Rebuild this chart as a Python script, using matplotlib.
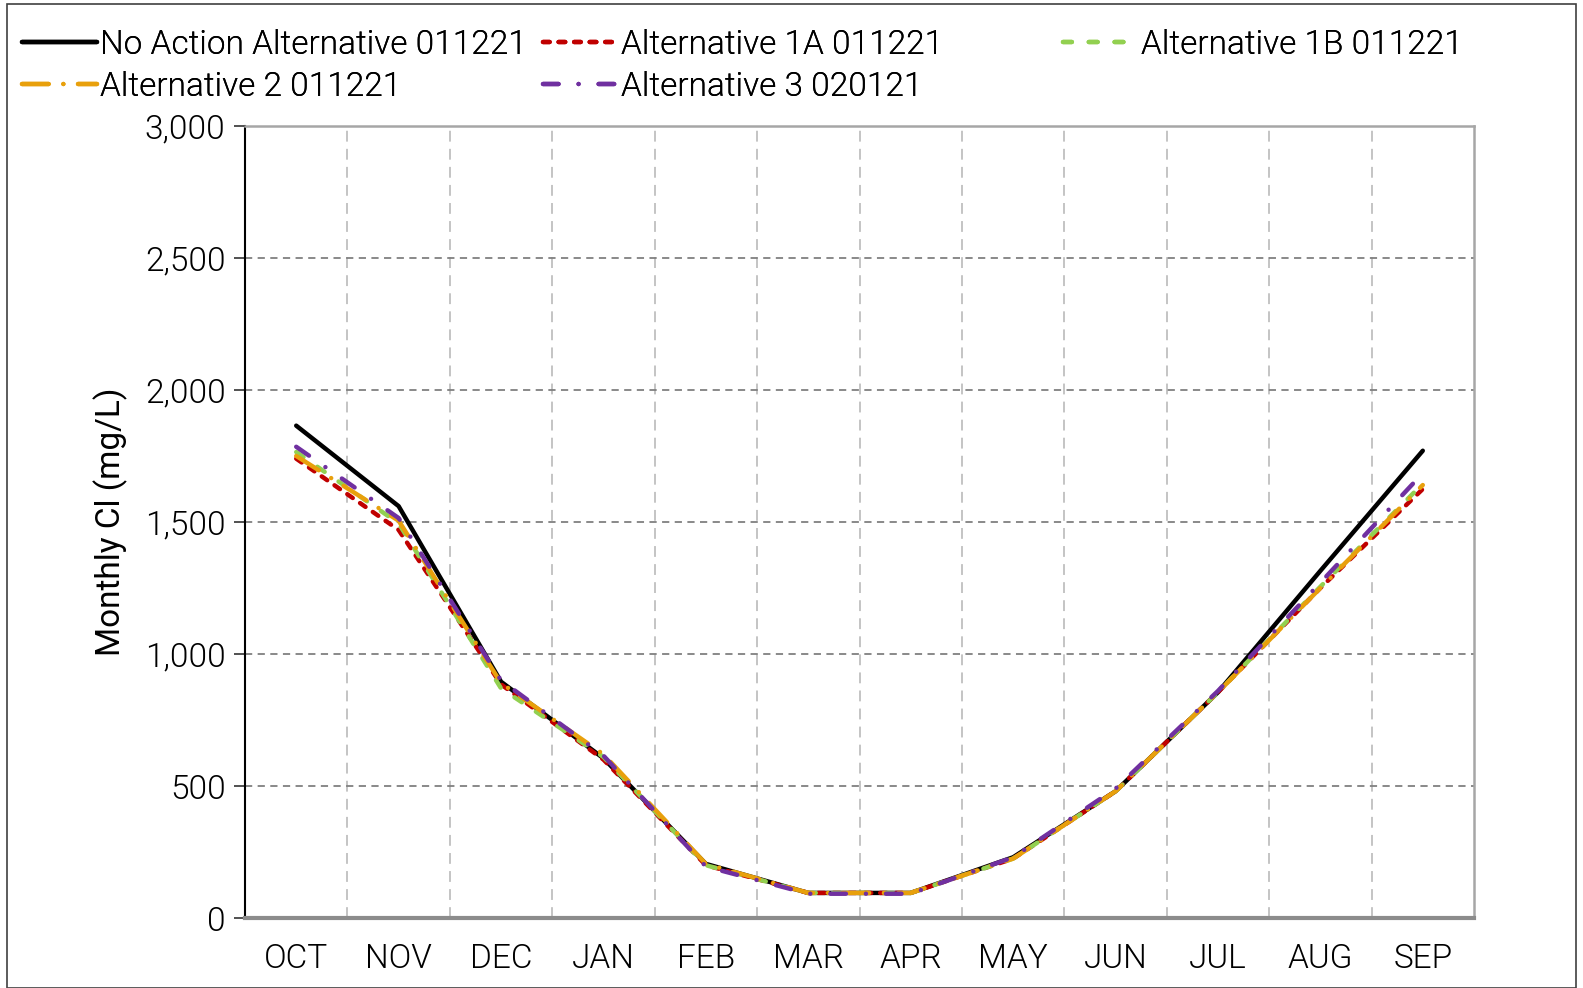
import matplotlib
matplotlib.use("Agg")
import matplotlib.pyplot as plt
from matplotlib.patches import Rectangle
from matplotlib.ticker import FuncFormatter
import numpy as np

plt.rcParams["font.family"] = ["Roboto", "DejaVu Sans"]
plt.rcParams["font.weight"] = 300

months = ["OCT", "NOV", "DEC", "JAN", "FEB", "MAR", "APR", "MAY", "JUN", "JUL", "AUG", "SEP"]

no_action = [1865, 1560, 895, 605, 205, 95, 95, 230, 480, 855, 1315, 1770]
alt_1a = [1740, 1470, 885, 600, 200, 95, 95, 225, 480, 855, 1250, 1625]
alt_1b = [1765, 1495, 870, 610, 200, 95, 95, 225, 480, 855, 1255, 1645]
alt_2 = [1750, 1505, 890, 620, 205, 95, 95, 225, 480, 855, 1250, 1640]
alt_3 = [1785, 1515, 900, 615, 195, 92, 92, 230, 490, 860, 1270, 1685]

series = [
    ("No Action Alternative 011221", no_action, "#000000", "-"),
    ("Alternative 1A 011221", alt_1a, "#C00000", (0, (1.5, 2))),
    ("Alternative 1B 011221", alt_1b, "#92D050", (0, (2, 3.8))),
    ("Alternative 2 011221", alt_2, "#E8A00C", (0, (6, 3.3, 0.01, 3.3))),
    ("Alternative 3 020121", alt_3, "#7030A0", (0, (3.5, 4.5, 0.01, 4.5))),
]

FS = 24

fig = plt.figure(figsize=(15.83, 9.88), dpi=100)
ax = fig.add_axes([245 / 1583, 1 - 918 / 988, (1474 - 245) / 1583, (918 - 126) / 988])

x = np.arange(len(months))
lines = {}
for name, vals, color, ls in series:
    (ln,) = ax.plot(x, vals, color=color, linestyle=ls, linewidth=3.2,
                    solid_capstyle="round", dash_capstyle="round", label=name)
    lines[name] = ln

ax.set_xlim(-0.5, len(months) - 0.5)
ax.set_ylim(0, 3000)
ax.set_yticks(np.arange(0, 3001, 500))
ax.yaxis.set_major_formatter(FuncFormatter(lambda v, p: f"{int(v):,}"))
ax.set_xticks(x)
ax.set_xticklabels(months)
ax.set_xticks(np.arange(0.5, len(months) - 1, 1), minor=True)

ax.grid(True, axis="y", which="major", color="#808080", linestyle=(0, (4, 3)), linewidth=1.3)
ax.grid(True, axis="x", which="minor", color="#BFBFBF", linestyle=(0, (6, 4)), linewidth=1.3)
ax.set_axisbelow(True)

ax.tick_params(axis="x", which="both", length=0, labelsize=FS, pad=18)
ax.tick_params(axis="y", length=8, width=1.2, labelsize=FS, pad=6, color="#333333")

for s in ["top", "right"]:
    ax.spines[s].set_color("#A6A6A6")
    ax.spines[s].set_linewidth(1.8)
ax.spines["bottom"].set_color("#8C8C8C")
ax.spines["bottom"].set_linewidth(3)
ax.spines["left"].set_color("#000000")
ax.spines["left"].set_linewidth(1.5)

ax.set_ylabel("Monthly Cl (mg/L)", fontsize=FS, labelpad=12)

# legend laid out as three fixed columns, like the original
columns = [
    (22, ["No Action Alternative 011221", "Alternative 2 011221"]),
    (543, ["Alternative 1A 011221", "Alternative 3 020121"]),
    (1063, ["Alternative 1B 011221"]),
]
for x0, names in columns:
    leg = fig.legend([lines[n] for n in names], names, loc="upper left",
                     bbox_to_anchor=(x0 / 1583, 1 - 29 / 988), frameon=False,
                     fontsize=FS, handlelength=2.25, handletextpad=0.1,
                     labelspacing=0.3, borderpad=0, borderaxespad=0)
    fig.add_artist(leg)

fig.add_artist(Rectangle((7 / 1583, 0), 1 - 14 / 1583, 1 - 4 / 988,
                         transform=fig.transFigure, fill=False,
                         edgecolor="#404040", linewidth=1.2))

fig.savefig("out.png", dpi=100)
